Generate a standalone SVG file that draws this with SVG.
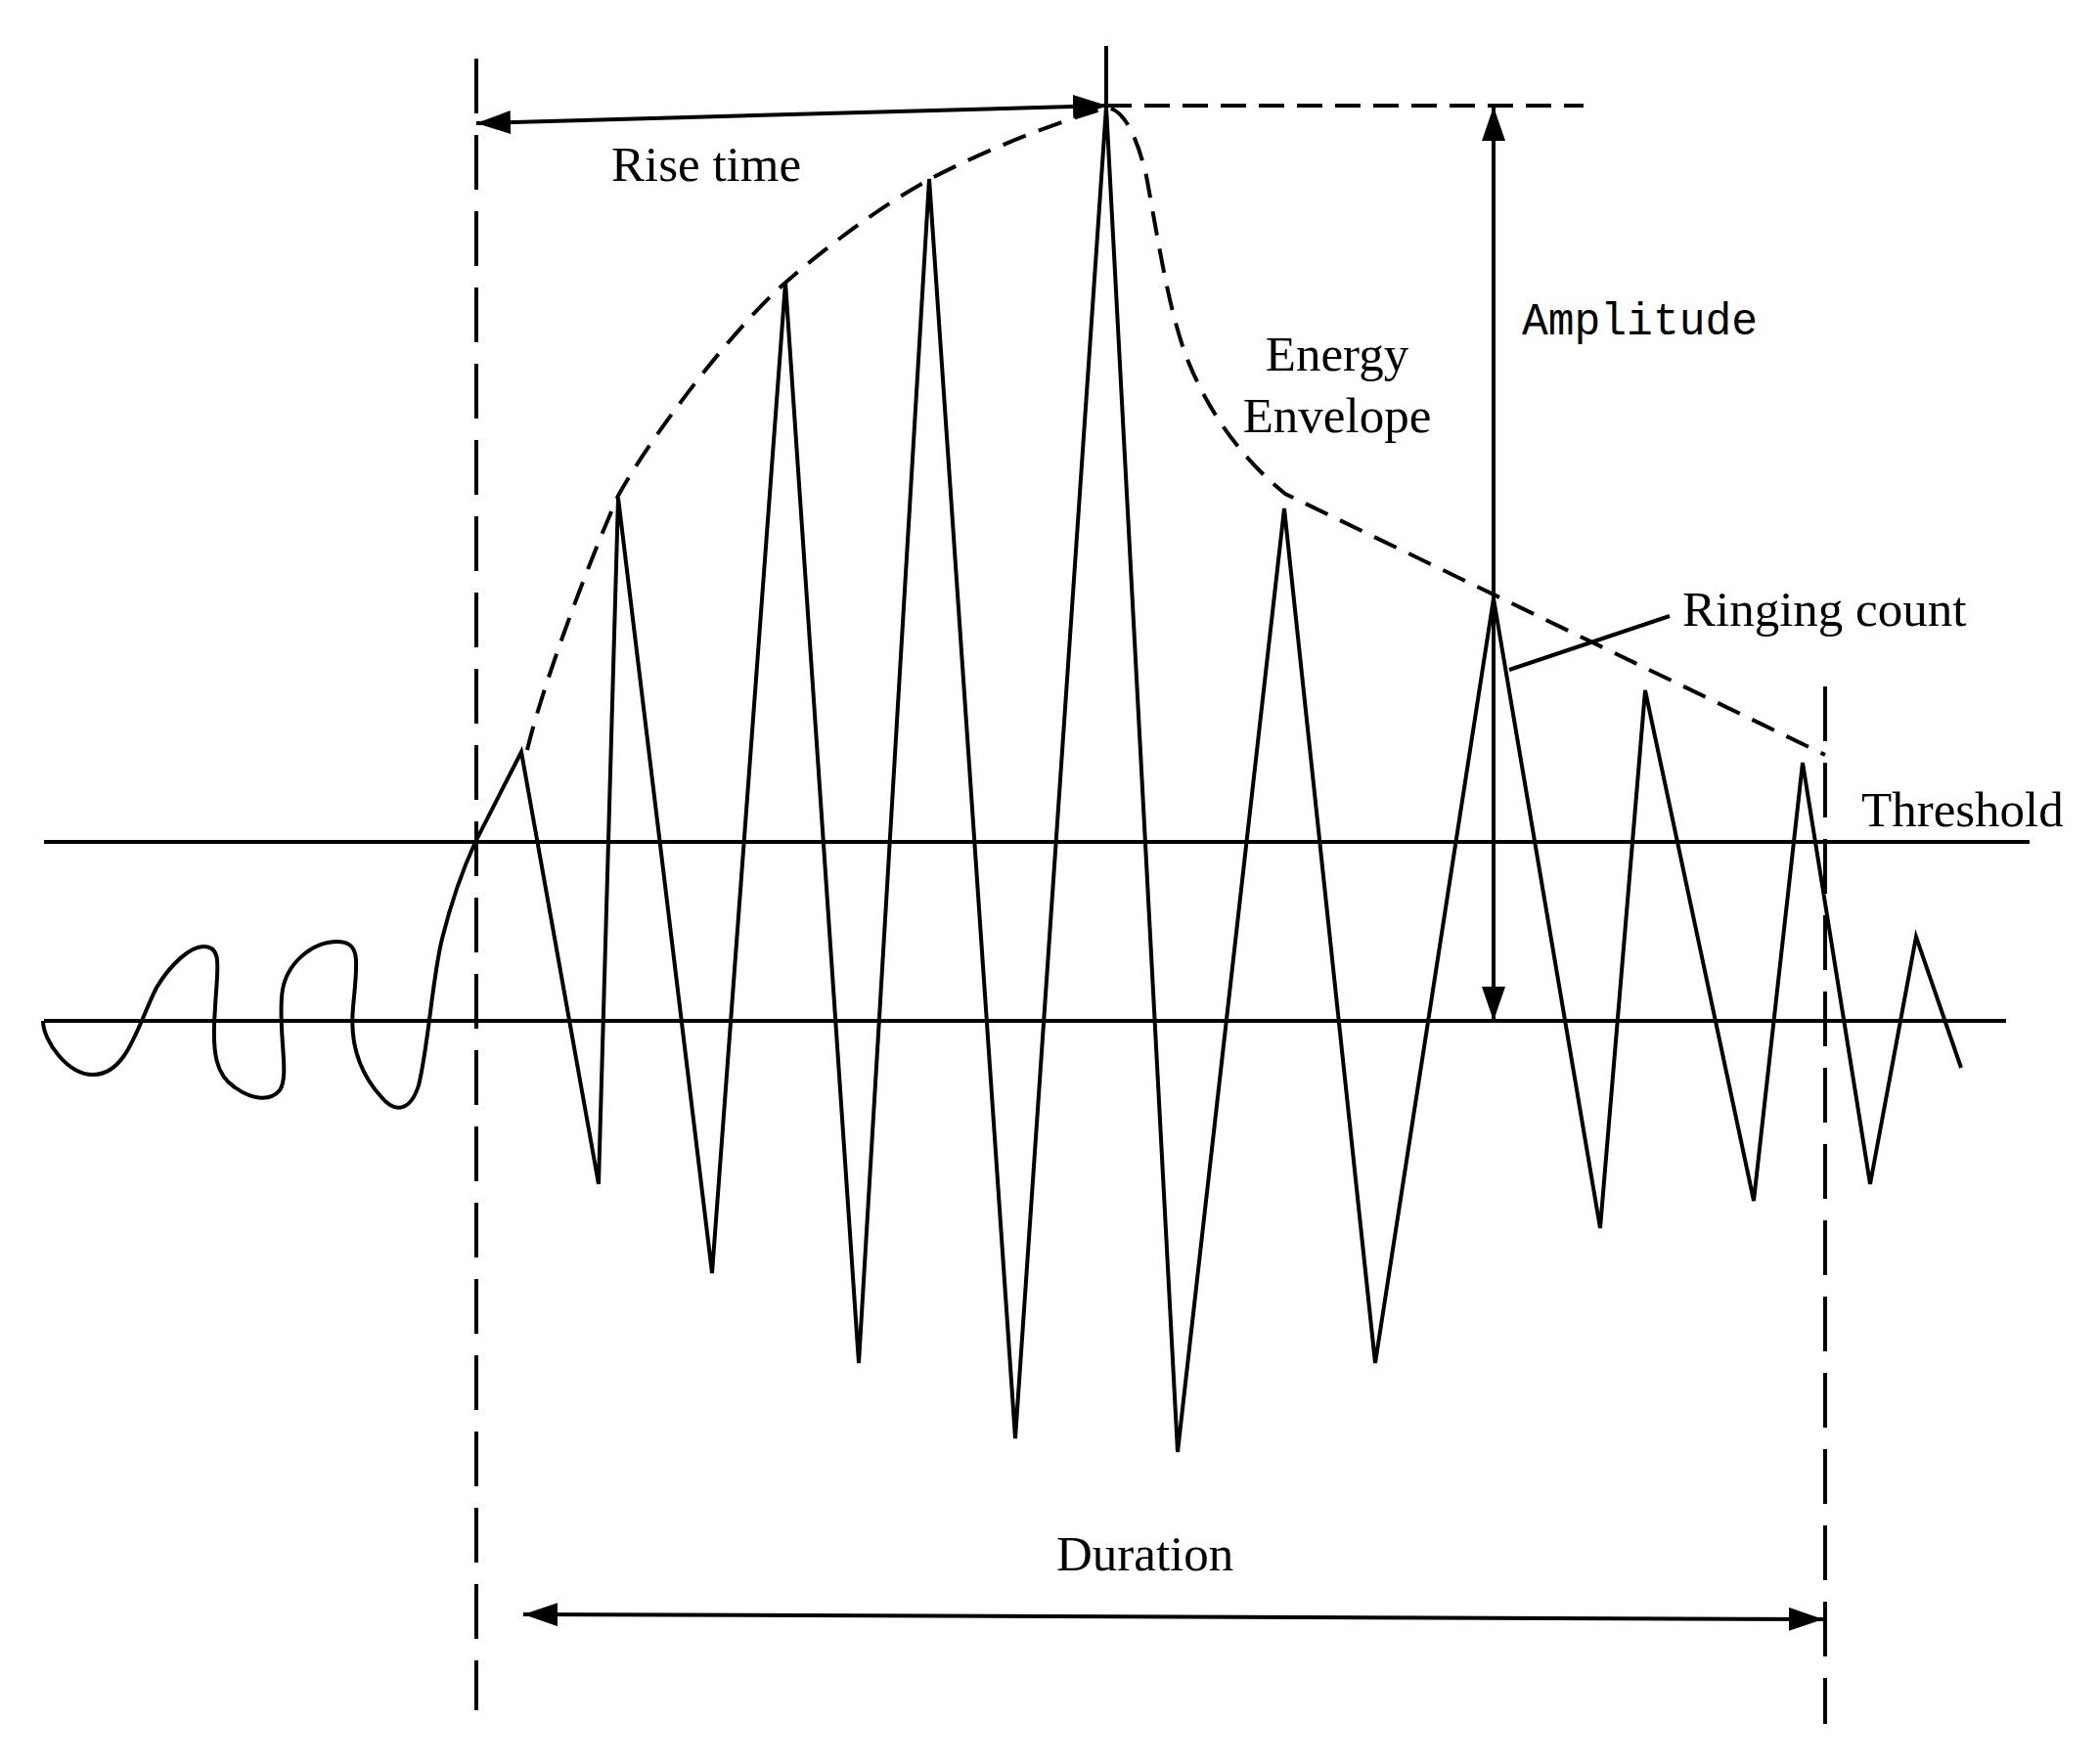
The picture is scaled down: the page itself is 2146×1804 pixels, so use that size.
<svg xmlns="http://www.w3.org/2000/svg" width="2146" height="1804" viewBox="0 0 2146 1804">
  <style>
    .solid { fill: none; stroke: #000; stroke-width: 4; stroke-linejoin: miter; }
    .vdash { fill: none; stroke: #000; stroke-width: 4; stroke-dasharray: 56 22; }
    .hdash { fill: none; stroke: #000; stroke-width: 4; stroke-dasharray: 26 13; }
    .env { fill: none; stroke: #000; stroke-width: 4; stroke-dasharray: 25 14; }
    .lbl { font-family: "Liberation Serif", "Times New Roman", serif; font-size: 51px; fill: #000; }
    .mono { font-family: "Liberation Mono", "Courier New", monospace; font-size: 46px; fill: #000; }
  </style>
  <defs>
    <marker id="arr" markerUnits="userSpaceOnUse" markerWidth="36" markerHeight="24" refX="35" refY="12" orient="auto-start-reverse">
      <path d="M0,0 L35,12 L0,24 Z" fill="#000"/>
    </marker>
  </defs>
  <rect width="2146" height="1804" fill="#fff"/>

  <g id="axes">
    <line class="solid" x1="45" y1="861" x2="2075" y2="861"/>
    <line class="solid" x1="45" y1="1044" x2="2051" y2="1044"/>
  </g>

  <g id="guides">
    <line class="vdash" x1="487" y1="60" x2="487" y2="1749"/>
    <line class="vdash" x1="1866" y1="702" x2="1866" y2="1763"/>
    <line class="solid" x1="1131" y1="47" x2="1131" y2="108"/>
    <line class="hdash" x1="1131" y1="108" x2="1619" y2="108"/>
  </g>

  <g id="signal">
    <path class="solid" d="M44,1044 C44,1065 70,1100 96,1099 C130,1098 140,1050 160,1010 C175,985 195,968 208,968 C228,968 222,990 220,1030 C216,1080 222,1100 240,1112 C255,1123 275,1128 286,1115 C296,1100 285,1060 288,1020 C290,985 320,963 345,963 C370,963 365,985 361,1030 C357,1070 370,1100 390,1122 C405,1140 420,1135 428,1110 C438,1070 442,1000 452,960 C462,920 475,885 486,861 L533,769 L612,1211 L632,509 L728,1302 L803,289 L878,1394 L950,183 L1038,1471 L1131,109 L1204,1485 L1313,520 L1406,1394 L1527,612 L1636,1256 L1682,706 L1793,1228 L1843,780 L1912,1211 L1959,958 L2005,1092"/>
  </g>

  <g id="envelope">
    <path class="env" d="M539,767 C555,700 600,580 632,507 C660,455 745,340 803,289 C850,248 905,208 951,183 C1010,152 1080,125 1132,110 C1152,112 1165,150 1172,180 C1185,250 1195,320 1215,370 C1235,420 1270,470 1314,505 L1866,772"/>
  </g>

  <g id="connectors">
    <line class="solid" x1="487" y1="126" x2="1132" y2="108" marker-start="url(#arr)" marker-end="url(#arr)"/>
    <line class="solid" x1="1527" y1="109" x2="1527" y2="1044" marker-start="url(#arr)" marker-end="url(#arr)"/>
    <line class="solid" x1="535" y1="1651" x2="1864" y2="1656" marker-start="url(#arr)" marker-end="url(#arr)"/>
    <line class="solid" x1="1543" y1="685" x2="1707" y2="630"/>
  </g>

  <g id="labels">
    <text id="rise-time" class="lbl" x="625" y="185">Rise time</text>
    <text id="energy" class="lbl" x="1367" y="379" text-anchor="middle">Energy</text>
    <text id="envelope-lbl" class="lbl" x="1367" y="442" text-anchor="middle">Envelope</text>
    <text id="amplitude" class="mono" x="1556" y="342" textLength="241" lengthAdjust="spacingAndGlyphs">Amplitude</text>
    <text id="ringing" class="lbl" x="1720" y="640">Ringing count</text>
    <text id="threshold" class="lbl" x="1903" y="845">Threshold</text>
    <text id="duration" class="lbl" x="1080" y="1606">Duration</text>
  </g>
</svg>
